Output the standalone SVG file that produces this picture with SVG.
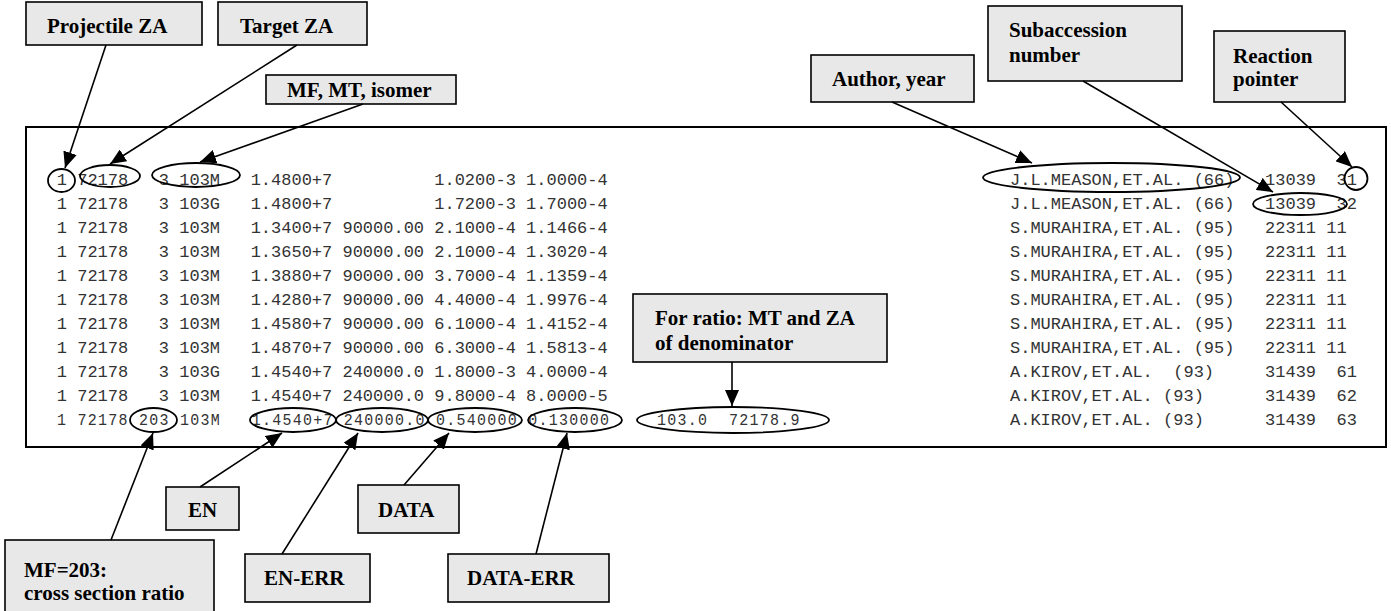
<svg xmlns="http://www.w3.org/2000/svg" width="1391" height="611" viewBox="0 0 1391 611">
  <defs>
    <marker id="arrow" markerUnits="userSpaceOnUse" markerWidth="16" markerHeight="14" viewBox="0 0 16 14" refX="16" refY="7" orient="auto">
      <path d="M0,0 L16,7 L0,14 z" fill="#000"/>
    </marker>
    <style>
      .lbl rect { fill: #e8e8e8; stroke: #000; stroke-width: 1.6; }
      .lbl text { font-family: "Liberation Serif", "Times New Roman", serif; font-weight: bold; font-size: 21px; fill: #000; }
      .row { font-family: "Liberation Mono", "Courier New", monospace; font-size: 17px; fill: #333; white-space: pre; }
      .ring { fill: none; stroke: #000; stroke-width: 1.8; }
      .conn line { stroke: #000; stroke-width: 1.6; marker-end: url(#arrow); }
    </style>
  </defs>

  <rect width="1391" height="611" fill="#fff"/>

  <!-- data listing frame -->
  <g id="listing">
    <rect x="26" y="127" width="1360" height="320" fill="#fff" stroke="#000" stroke-width="2"/>
    <g class="row">
      <text x="16" y="185" xml:space="preserve">    1 72178   3 103M   1.4800+7          1.0200-3 1.0000-4</text>
      <text x="16" y="209" xml:space="preserve">    1 72178   3 103G   1.4800+7          1.7200-3 1.7000-4</text>
      <text x="16" y="233" xml:space="preserve">    1 72178   3 103M   1.3400+7 90000.00 2.1000-4 1.1466-4</text>
      <text x="16" y="257" xml:space="preserve">    1 72178   3 103M   1.3650+7 90000.00 2.1000-4 1.3020-4</text>
      <text x="16" y="281" xml:space="preserve">    1 72178   3 103M   1.3880+7 90000.00 3.7000-4 1.1359-4</text>
      <text x="16" y="305" xml:space="preserve">    1 72178   3 103M   1.4280+7 90000.00 4.4000-4 1.9976-4</text>
      <text x="16" y="329" xml:space="preserve">    1 72178   3 103M   1.4580+7 90000.00 6.1000-4 1.4152-4</text>
      <text x="16" y="353" xml:space="preserve">    1 72178   3 103M   1.4870+7 90000.00 6.3000-4 1.5813-4</text>
      <text x="16" y="377" xml:space="preserve">    1 72178   3 103G   1.4540+7 240000.0 1.8000-3 4.0000-4</text>
      <text x="16" y="401" xml:space="preserve">    1 72178   3 103M   1.4540+7 240000.0 9.8000-4 8.0000-5</text>
      <!-- ratio row: narrower glyphs on the same column grid -->
      <text transform="scale(0.88,1)" x="18.18" y="425" letter-spacing="1.45" xml:space="preserve">    1 72178 203 103M   1.4540+7 240000.0 0.540000 0.130000</text>
      <text transform="scale(0.88,1)" x="746.6" y="425" letter-spacing="1.45">103.0</text>
      <text transform="scale(0.88,1)" x="828.4" y="425" letter-spacing="1.45">72178.9</text>

      <text x="1010" y="185" xml:space="preserve">J.L.MEASON,ET.AL. (66)   13039  31</text>
      <text x="1010" y="209" xml:space="preserve">J.L.MEASON,ET.AL. (66)   13039  32</text>
      <text x="1010" y="233" xml:space="preserve">S.MURAHIRA,ET.AL. (95)   22311 11</text>
      <text x="1010" y="257" xml:space="preserve">S.MURAHIRA,ET.AL. (95)   22311 11</text>
      <text x="1010" y="281" xml:space="preserve">S.MURAHIRA,ET.AL. (95)   22311 11</text>
      <text x="1010" y="305" xml:space="preserve">S.MURAHIRA,ET.AL. (95)   22311 11</text>
      <text x="1010" y="329" xml:space="preserve">S.MURAHIRA,ET.AL. (95)   22311 11</text>
      <text x="1010" y="353" xml:space="preserve">S.MURAHIRA,ET.AL. (95)   22311 11</text>
      <text x="1010" y="377" xml:space="preserve">A.KIROV,ET.AL.  (93)     31439  61</text>
      <text x="1010" y="401" xml:space="preserve">A.KIROV,ET.AL. (93)      31439  62</text>
      <text x="1010" y="425" xml:space="preserve">A.KIROV,ET.AL. (93)      31439  63</text>
    </g>

    <!-- field highlights -->
    <ellipse class="ring" cx="61.5" cy="180.5" rx="13.5" ry="11.5"/>
    <ellipse class="ring" cx="110" cy="176" rx="30" ry="11"/>
    <ellipse class="ring" cx="196" cy="175" rx="44" ry="12"/>
    <ellipse class="ring" cx="1111.5" cy="177.5" rx="128.5" ry="14.5"/>
    <ellipse class="ring" cx="1300" cy="204" rx="47" ry="11"/>
    <ellipse class="ring" cx="1356" cy="178.5" rx="11.5" ry="11.5"/>
    <ellipse class="ring" cx="153.5" cy="420" rx="23.5" ry="12"/>
    <ellipse class="ring" cx="293" cy="420" rx="43" ry="12"/>
    <ellipse class="ring" cx="382" cy="420" rx="46" ry="12"/>
    <ellipse class="ring" cx="475" cy="420" rx="47" ry="12"/>
    <ellipse class="ring" cx="575" cy="420" rx="47" ry="12"/>
    <ellipse class="ring" cx="733" cy="420" rx="96" ry="13"/>
  </g>

  <!-- callout labels -->
  <g id="projectile-za" class="lbl">
    <rect x="26" y="2" width="176" height="43"/>
    <text x="47" y="33">Projectile ZA</text>
  </g>
  <g id="target-za" class="lbl">
    <rect x="218" y="2" width="149" height="43"/>
    <text x="240" y="33">Target ZA</text>
  </g>
  <g id="mf-mt-isomer" class="lbl">
    <rect x="266" y="75" width="190" height="29"/>
    <text x="287" y="97">MF, MT, isomer</text>
  </g>
  <g id="author-year" class="lbl">
    <rect x="811" y="55" width="163" height="47"/>
    <text x="832" y="86">Author, year</text>
  </g>
  <g id="subaccession" class="lbl">
    <rect x="988" y="6" width="194" height="75"/>
    <text x="1009" y="37">Subaccession</text>
    <text x="1009" y="62">number</text>
  </g>
  <g id="reaction-pointer" class="lbl">
    <rect x="1214" y="31" width="131" height="71"/>
    <text x="1233" y="63">Reaction</text>
    <text x="1233" y="86">pointer</text>
  </g>
  <g id="ratio-denominator" class="lbl">
    <rect x="633" y="294" width="254" height="68"/>
    <text x="655" y="325">For ratio: MT and ZA</text>
    <text x="655" y="350">of denominator</text>
  </g>
  <g id="en" class="lbl">
    <rect x="166" y="487" width="73" height="43"/>
    <text x="188" y="517">EN</text>
  </g>
  <g id="data" class="lbl">
    <rect x="358" y="485" width="101" height="48"/>
    <text x="378" y="517">DATA</text>
  </g>
  <g id="mf-203" class="lbl">
    <rect x="5" y="540" width="209" height="75"/>
    <text x="24" y="577">MF=203:</text>
    <text x="24" y="600">cross section ratio</text>
  </g>
  <g id="en-err" class="lbl">
    <rect x="245" y="554" width="125" height="48"/>
    <text x="264" y="585">EN-ERR</text>
  </g>
  <g id="data-err" class="lbl">
    <rect x="448" y="554" width="161" height="48"/>
    <text x="467" y="585">DATA-ERR</text>
  </g>

  <!-- connectors -->
  <g id="connectors" class="conn">
    <line x1="106" y1="45" x2="65" y2="168"/>
    <line x1="297" y1="45" x2="110" y2="164"/>
    <line x1="363" y1="104" x2="200" y2="162"/>
    <line x1="892" y1="102" x2="1032" y2="163"/>
    <line x1="1083" y1="81" x2="1273" y2="192"/>
    <line x1="1281" y1="102" x2="1352" y2="167"/>
    <line x1="732" y1="362" x2="732" y2="406"/>
    <line x1="111" y1="540" x2="153" y2="433"/>
    <line x1="200" y1="487" x2="282" y2="433"/>
    <line x1="282" y1="554" x2="358" y2="433"/>
    <line x1="404" y1="485" x2="449" y2="433"/>
    <line x1="536" y1="554" x2="567" y2="433"/>
  </g>
</svg>
